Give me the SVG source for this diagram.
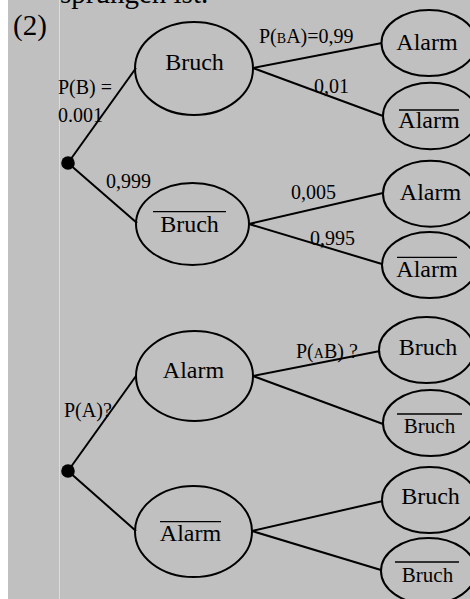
<svg xmlns="http://www.w3.org/2000/svg" width="470" height="599" viewBox="0 0 470 599">
<style>
.n{fill:none;stroke:#000;stroke-width:2}
.e{stroke:#000;stroke-width:2;fill:none}
.t{font-family:"Liberation Serif","Times New Roman",serif;font-size:24px;fill:#000;text-anchor:middle}
.ts{font-family:"Liberation Serif","Times New Roman",serif;font-size:21px;fill:#000;text-anchor:middle}
.l{font-family:"Liberation Serif","Times New Roman",serif;font-size:20px;fill:#000}
.h{font-family:"Liberation Serif","Times New Roman",serif;font-size:29px;fill:#000}
.ob{stroke:#000;stroke-width:1.3}
</style>
<rect x="0" y="0" width="470" height="599" fill="#ffffff"/>
<rect x="8" y="0" width="462" height="599" fill="#c0c0c0"/>
<line x1="59.5" y1="0" x2="59.5" y2="599" stroke="#dcdcdc" stroke-width="1"/>
<text class="h" x="60" y="2.5" font-size="30">sprungen ist.</text>
<text class="h" x="13" y="35">(2)</text>

<g id="connectors">
<line class="e" x1="68" y1="163" x2="136" y2="68"/>
<line class="e" x1="68" y1="163" x2="137" y2="223"/>
<line class="e" x1="253" y1="68" x2="382" y2="43"/>
<line class="e" x1="253" y1="68" x2="383" y2="116"/>
<line class="e" x1="249" y1="224" x2="383" y2="193"/>
<line class="e" x1="249" y1="224" x2="382" y2="264"/>
<line class="e" x1="68" y1="471" x2="136" y2="376"/>
<line class="e" x1="68" y1="471" x2="136" y2="531"/>
<line class="e" x1="253" y1="376" x2="380" y2="351"/>
<line class="e" x1="253" y1="376" x2="383" y2="424"/>
<line class="e" x1="252" y1="531" x2="383" y2="501"/>
<line class="e" x1="252" y1="531" x2="381" y2="570"/>
</g>

<g id="labels">
<text class="l" x="259" y="43">P(<tspan font-size="14">B</tspan>A)=0,99</text>
<text class="l" x="314" y="93">0,01</text>
<text class="l" x="58" y="94">P(B) =</text>
<text class="l" x="58" y="122">0.001</text>
<text class="l" x="106" y="188">0,999</text>
<text class="l" x="291" y="199">0,005</text>
<text class="l" x="310" y="245">0,995</text>
<text class="l" x="296" y="358">P(<tspan font-size="14">A</tspan>B) ?</text>
<text class="l" x="64" y="417">P(A)?</text>
</g>

<g id="root1"><circle cx="68" cy="163" r="6.8" fill="#000"/></g>
<g id="root2"><circle cx="68" cy="471" r="6.8" fill="#000"/></g>

<g id="bruch"><ellipse class="n" cx="194" cy="68.5" rx="59" ry="46.5"/><text class="t" x="194.5" y="70">Bruch</text></g>
<g id="nbruch"><ellipse class="n" cx="192.5" cy="224" rx="56.5" ry="41"/><line class="ob" x1="153" y1="211.7" x2="226" y2="211.7"/><text class="t" x="189.5" y="231.7">Bruch</text></g>
<g id="alarm"><ellipse class="n" cx="194.5" cy="376" rx="58.5" ry="45"/><text class="t" x="193.5" y="378">Alarm</text></g>
<g id="nalarm"><ellipse class="n" cx="193.5" cy="531.5" rx="58.5" ry="45.5"/><line class="ob" x1="160" y1="521.7" x2="221" y2="521.7"/><text class="t" x="190.5" y="541">Alarm</text></g>

<g id="b_alarm"><ellipse class="n" cx="429" cy="43" rx="47.5" ry="33"/><text class="t" x="427" y="50">Alarm</text></g>
<g id="b_nalarm"><ellipse class="n" cx="430.5" cy="116" rx="47.5" ry="33.3"/><line class="ob" x1="399" y1="110" x2="459" y2="110"/><text class="t" x="429" y="128">Alarm</text></g>
<g id="nb_alarm"><ellipse class="n" cx="430.5" cy="193.7" rx="47.5" ry="33"/><text class="t" x="430.5" y="200">Alarm</text></g>
<g id="nb_nalarm"><ellipse class="n" cx="429.5" cy="265" rx="47.5" ry="33"/><line class="ob" x1="397" y1="257.3" x2="457" y2="257.3"/><text class="t" x="427" y="276.7">Alarm</text></g>
<g id="a_bruch"><ellipse class="n" cx="426.5" cy="350" rx="47.5" ry="33"/><text class="t" x="428" y="355">Bruch</text></g>
<g id="a_nbruch"><ellipse class="n" cx="430.5" cy="423" rx="47.5" ry="33"/><line class="ob" x1="397" y1="414" x2="462" y2="414"/><text class="ts" x="429.5" y="433">Bruch</text></g>
<g id="na_bruch"><ellipse class="n" cx="429.5" cy="500" rx="47.5" ry="33"/><text class="t" x="430.5" y="504">Bruch</text></g>
<g id="na_nbruch"><ellipse class="n" cx="428.5" cy="571" rx="47.5" ry="33"/><line class="ob" x1="395" y1="562" x2="459" y2="562"/><text class="ts" x="427.5" y="582">Bruch</text></g>
</svg>
